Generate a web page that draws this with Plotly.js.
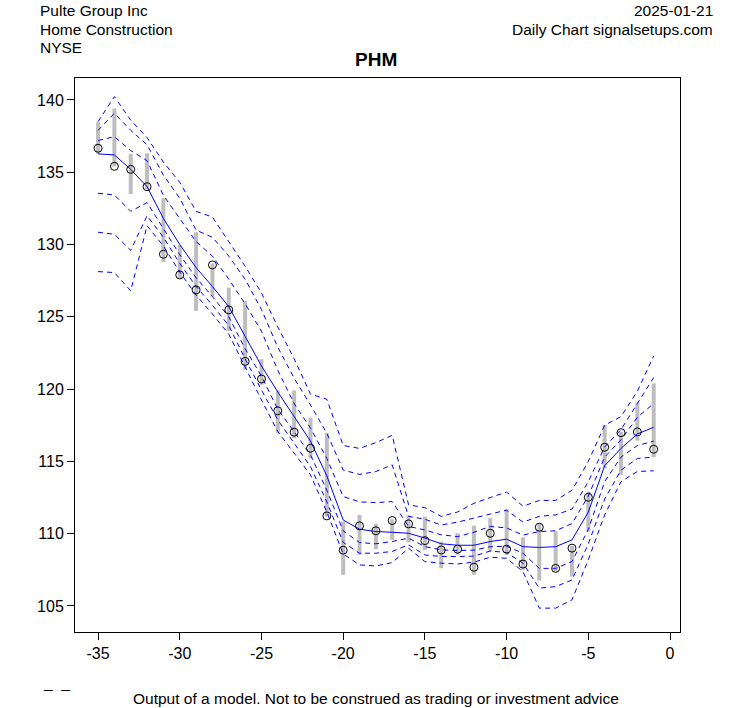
<!DOCTYPE html>
<html>
<head>
<meta charset="utf-8">
<script src="https://cdn.plot.ly/plotly-3.0.1.min.js"></script>
<style>html,body{margin:0;padding:0;background:#fff;}#chart{width:753px;height:708px;}</style>
</head>
<body>
<div id="chart"></div>
<script>
// Day offsets
const days = [-35,-34,-33,-32,-31,-30,-29,-28,-27,-26,-25,-24,-23,-22,-21,-20,-19,-18,-17,-16,-15,-14,-13,-12,-11,-10,-9,-8,-7,-6,-5,-4,-3,-2,-1];
// Daily high / low / close
const high  = [138.46,139.42,136.27,136.31,133.2,129.97,130.85,128.7,127.02,126.1,122.07,119.9,119.9,118.03,116.95,110.84,111.3,110.68,111.0,111.23,111.18,109.45,110.03,110.56,111.07,111.69,109.74,110.72,110.15,109.16,112.91,117.52,117.06,119.07,120.4];
const low   = [136.27,135.4,133.5,133.82,128.8,127.67,125.41,126.4,124.03,121.35,120.3,116.98,116.6,115.22,111.19,107.15,108.53,108.93,109.57,109.39,108.88,107.61,108.53,107.15,108.76,108.53,107.5,106.76,107.38,107.04,110.15,114.53,114.07,116.44,115.29];
const close = [136.66,135.41,135.2,134.0,129.33,127.9,126.86,128.59,125.48,121.92,120.7,118.5,117.02,115.91,111.23,108.86,110.54,110.2,110.91,110.68,109.52,108.87,108.93,107.68,110.03,108.93,107.9,110.45,107.6,109.0,112.52,115.98,116.99,117.04,115.84];
// Model centre line
const centre = [136.27,136.2,135.2,134.0,131.8,130.0,128.4,127.1,125.7,123.6,121.6,119.8,118.1,116.4,114.0,110.95,110.31,110.15,110.1,110.03,109.7,109.3,109.2,109.2,109.46,109.62,109.1,109.05,109.1,109.57,111.5,114.7,115.9,116.9,117.36];
// Upper bands
const upper3 = [138.5,140.23,138.6,137.4,135.7,134.3,132.3,131.9,130.2,128.5,126.65,124.3,122.1,119.65,119.3,116.1,115.9,116.3,116.8,112.0,111.8,111.2,111.5,112.1,112.5,112.88,111.9,112.3,112.3,113.0,115.0,117.5,118.1,119.85,122.3];
const upper2 = [137.9,139.08,137.9,136.9,134.8,133.2,131.0,130.5,129.2,127.6,125.5,122.9,120.75,118.9,116.95,114.4,114.1,114.3,114.76,111.2,111.0,110.6,110.8,111.1,111.36,111.63,110.8,111.2,111.3,111.7,113.6,116.0,117.2,119.0,120.8];
const upper1 = [137.2,137.46,136.5,135.8,133.4,131.8,130.2,129.2,127.6,125.9,124.0,121.3,119.0,117.3,115.2,112.57,112.2,112.15,112.22,110.5,110.26,109.92,109.8,110.1,110.5,110.4,109.9,110.15,110.2,110.7,112.6,115.3,116.5,118.05,119.0];
// Lower bands
const lower1 = [133.55,133.43,132.3,132.9,131.1,129.3,127.7,126.4,125.0,122.8,120.9,118.6,117.06,115.45,113.0,110.2,109.39,109.3,109.46,109.69,109.11,108.88,108.84,108.86,109.1,109.13,108.65,107.6,107.6,108.07,110.3,113.6,115.3,116.1,116.4];
const lower2 = [130.85,130.71,129.6,132.0,130.5,128.7,127.1,125.8,124.4,122.1,119.94,117.87,116.26,114.64,112.2,109.4,108.65,108.65,108.77,109.23,108.53,108.42,108.42,108.45,108.8,108.7,107.96,106.23,106.34,106.8,109.3,112.4,114.4,115.2,115.3];
const lower3 = [128.13,128.06,126.8,131.3,129.9,128.1,126.5,125.2,123.8,121.5,119.25,117.06,115.57,114.07,111.5,108.6,107.84,107.77,108.0,108.99,108.07,107.96,107.91,108.03,108.37,108.3,107.38,104.85,104.85,105.42,108.2,111.3,113.6,114.3,114.35];

const xTicks = [-35,-30,-25,-20,-15,-10,-5,0];
const yTicks = [105,110,115,120,125,130,135,140];

// Build high-low segments
const segX = [], segY = [];
days.forEach((d, i) => { segX.push(d, d, null); segY.push(low[i], high[i], null); });

const blue = '#0000FF';
const dashStyle = '5px,4px';
function band(y) {
  return {x: days, y: y, type: 'scatter', mode: 'lines', hoverinfo: 'skip',
          line: {color: blue, width: 1, dash: dashStyle}};
}

const traces = [
  {x: segX, y: segY, type: 'scatter', mode: 'lines', hoverinfo: 'skip',
   line: {color: '#BEBEBE', width: 4}},
  band(upper3), band(upper2), band(upper1),
  band(lower1), band(lower2), band(lower3),
  {x: days, y: centre, type: 'scatter', mode: 'lines', hoverinfo: 'skip',
   line: {color: blue, width: 1}},
  {x: days, y: close, type: 'scatter', mode: 'markers', hoverinfo: 'skip',
   marker: {symbol: 'circle-open', size: 8, color: '#000', line: {width: 1, color: '#000'}}}
];

const L = 75, R = 680, T = 78, B = 632;
const px = v => (v - L) / (R - L);
const py = v => (B - v) / (B - T);
const fam = 'Liberation Sans, Arial, sans-serif';
const font = {family: fam, size: 16, color: '#000'};
const textFont = {family: fam, size: 15.5, color: '#000'};

const layout = {
  width: 753, height: 708,
  margin: {l: L, r: 753 - R, t: T, b: 708 - B, pad: 0},
  paper_bgcolor: '#fff', plot_bgcolor: '#fff',
  showlegend: false,
  font: font,
  xaxis: {range: [-36.41, 0.61], tickvals: xTicks, ticktext: xTicks.map(String),
          showgrid: false, zeroline: false, showline: true, mirror: true,
          linecolor: '#000', linewidth: 1, ticks: 'outside', ticklen: 7, tickcolor: '#000',
          tickfont: font},
  yaxis: {range: [103.2, 141.52], tickvals: yTicks, ticktext: yTicks.map(String),
          showgrid: false, zeroline: false, showline: true, mirror: true,
          linecolor: '#000', linewidth: 1, ticks: 'outside', ticklen: 7, tickcolor: '#000',
          tickfont: font},
  annotations: [
    {text: 'Pulte Group Inc', xref: 'paper', yref: 'paper', x: px(38), y: py(10), xanchor: 'left', yanchor: 'middle', showarrow: false, font: textFont},
    {text: 'Home Construction', xref: 'paper', yref: 'paper', x: px(38), y: py(29), xanchor: 'left', yanchor: 'middle', showarrow: false, font: textFont},
    {text: 'NYSE', xref: 'paper', yref: 'paper', x: px(38), y: py(47), xanchor: 'left', yanchor: 'middle', showarrow: false, font: textFont},
    {text: '2025-01-21', xref: 'paper', yref: 'paper', x: px(715), y: py(10), xanchor: 'right', yanchor: 'middle', showarrow: false, font: textFont},
    {text: 'Daily Chart signalsetups.com', xref: 'paper', yref: 'paper', x: px(715), y: py(29), xanchor: 'right', yanchor: 'middle', showarrow: false, font: textFont},
    {text: '<b>PHM</b>', xref: 'paper', yref: 'paper', x: px(376), y: py(60), xanchor: 'center', yanchor: 'middle', showarrow: false, font: {family: fam, size: 19, color: '#000'}},
    {text: 'Output of a model. Not to be construed as trading or investment advice', xref: 'paper', yref: 'paper', x: px(376), y: py(698), xanchor: 'center', yanchor: 'middle', showarrow: false, font: textFont},
    {text: '_  _', xref: 'paper', yref: 'paper', x: px(56), y: py(682), xanchor: 'center', yanchor: 'middle', showarrow: false, font: textFont}
  ]
};

Plotly.newPlot('chart', traces, layout, {staticPlot: true, displayModeBar: false});
</script>
</body>
</html>
